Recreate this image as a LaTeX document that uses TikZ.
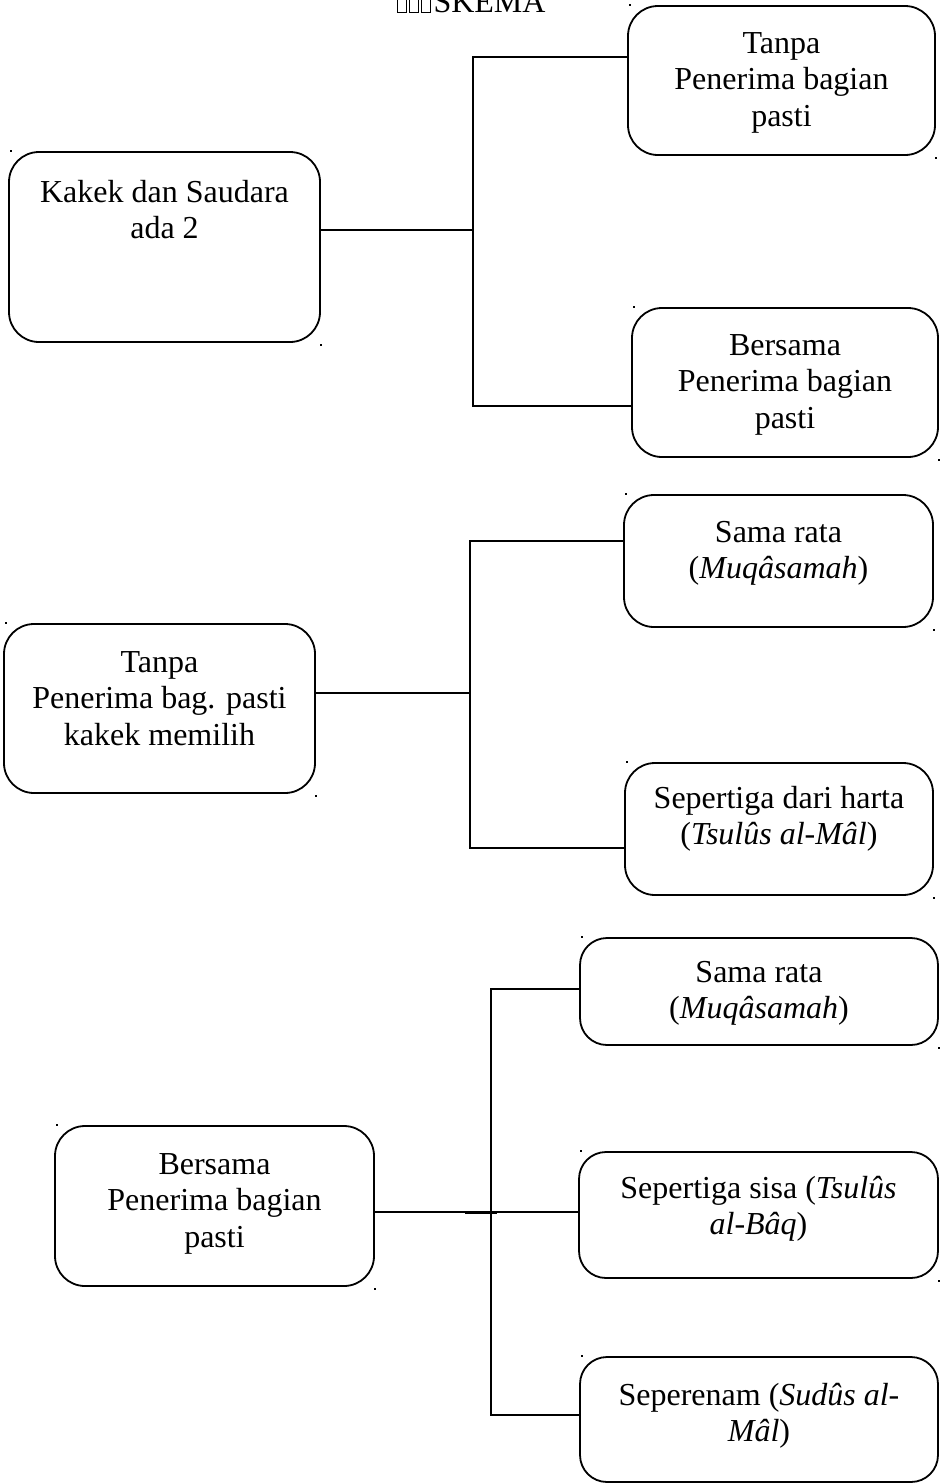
\documentclass[tikz,border=0pt]{standalone}
\usepackage{fontspec}
\setmainfont{Liberation Serif}
\usepackage{tikz}
\usetikzlibrary{positioning,calc}

% empty glyph boxes in front of the title
\newcommand{\kotakkosong}{{\setlength{\fboxsep}{0pt}\setlength{\fboxrule}{0.8pt}\fbox{\rule{0pt}{24pt}\hspace{8pt}}}\kern2.5pt}

\begin{document}
\begin{tikzpicture}[x=1pt, y=-1pt,
  kotak/.style={draw, line width=1.8pt, rounded corners=30pt, anchor=north west, inner sep=0pt, outer sep=0pt},
  isi/.style={anchor=base, align=center, inner sep=0pt, font=\fontsize{32}{36.8}\selectfont},
  garis/.style={line width=1.8pt}]
  \useasboundingbox (0,0) rectangle (940,1484);

  % Title
  \node[anchor=base west, inner sep=0pt, font=\fontsize{32}{36.8}\selectfont] (judul) at (397,12) {\kotakkosong\kotakkosong\kotakkosong SKEMA};

  % Kakek dan Saudara ada 2 (text anchored on its last line)
  \node[kotak, minimum width=311, minimum height=190] (kakek) at (9,152) {};
  \node[isi] (kakekT) at ([yshift=-86.8pt]kakek.north) {Kakek dan Saudara\\ada 2};
  \node[kotak, minimum width=307, minimum height=149] (tanpaA) at (628,6) {};
  \node[isi] (tanpaAT) at ([yshift=-120.6pt]tanpaA.north) {Tanpa\\Penerima bagian\\pasti};
  \node[kotak, minimum width=306, minimum height=149] (bersamaA) at (632,308) {};
  \node[isi] (bersamaAT) at ([yshift=-120.6pt]bersamaA.north) {Bersama\\Penerima bagian\\pasti};

  \coordinate (j1) at (473,230);
  \coordinate (j1a) at (473,57);
  \coordinate (j1b) at (473,406);
  \draw[garis] (kakek.east |- j1) -- (j1);
  \draw[garis] (tanpaA.west |- j1a) -- (j1a) -- (j1b) -- (bersamaA.west |- j1b);

  % Tanpa penerima bagian pasti
  \node[kotak, minimum width=311, minimum height=169] (tanpaB) at (4,624) {};
  \node[isi] (tanpaBT) at ([yshift=-121.6pt]tanpaB.north) {Tanpa\\Penerima bag. pasti\\kakek memilih};
  \node[kotak, minimum width=309, minimum height=132] (samaA) at (624,495) {};
  \node[isi] (samaAT) at ([yshift=-83.8pt]samaA.north) {Sama rata\\(\textit{Muqâsamah})};
  \node[kotak, minimum width=308, minimum height=132] (sepertigaA) at (625,763) {};
  \node[isi] (sepertigaAT) at ([yshift=-81.8pt]sepertigaA.north) {Sepertiga dari harta\\(\textit{Tsulûs al-Mâl})};

  \coordinate (j2) at (470,693);
  \coordinate (j2a) at (470,541);
  \coordinate (j2b) at (470,848);
  \draw[garis] (tanpaB.east |- j2) -- (j2);
  \draw[garis] (samaA.west |- j2a) -- (j2a) -- (j2b) -- (sepertigaA.west |- j2b);

  % Bersama penerima bagian pasti
  \node[kotak, minimum width=319, minimum height=160] (bersamaB) at (55,1126) {};
  \node[isi] (bersamaBT) at ([yshift=-121.6pt]bersamaB.north) {Bersama\\Penerima bagian\\pasti};
  \node[kotak, rounded corners=27pt, minimum width=358, minimum height=107] (samaB) at (580,938) {};
  \node[isi] (samaBT) at ([yshift=-80.8pt]samaB.north) {Sama rata\\(\textit{Muqâsamah})};
  \node[kotak, rounded corners=27pt, minimum width=359, minimum height=126] (sisa) at (579,1152) {};
  \node[isi] (sisaT) at ([yshift=-82.8pt]sisa.north) {Sepertiga sisa (\textit{Tsulûs}\\\textit{al-Bâq})};
  \node[kotak, rounded corners=27pt, minimum width=358, minimum height=125] (seperenam) at (580,1357) {};
  \node[isi] (seperenamT) at ([yshift=-84.8pt]seperenam.north) {Seperenam (\textit{Sudûs al-}\\\textit{Mâl})};

  \coordinate (j3) at (491,1212);
  \coordinate (j3a) at (491,989);
  \coordinate (j3b) at (491,1415);
  \coordinate (j3l) at (465,1212);
  \coordinate (j3r) at (497,1212);
  \draw[garis] (bersamaB.east |- j3) -- (sisa.west |- j3);
  \draw[line width=3pt] (j3l) -- (j3r);
  \draw[garis] (samaB.west |- j3a) -- (j3a) -- (j3b) -- (seperenam.west |- j3b);

  % small anchor marks at the box corners
  \foreach \k in {kakek,tanpaA,bersamaA,tanpaB,samaA,sepertigaA,bersamaB,samaB,sisa,seperenam}{
    \fill ([shift={(1,-2)}]\k.north west) rectangle ++(2,2);
    \fill ([shift={(0,2)}]\k.south east) rectangle ++(2,2);
  }
\end{tikzpicture}
\end{document}
